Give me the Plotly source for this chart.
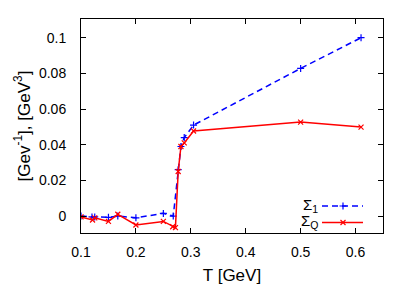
import plotly.graph_objects as go

T_sigma1 = [0.1, 0.12, 0.125, 0.15, 0.167, 0.2, 0.25, 0.268, 0.277, 0.282, 0.288, 0.305, 0.5, 0.61]
sigma1 = [0.0, -0.0005, -0.0005, -0.0007, 0.0, -0.001, 0.0015, 0.0, 0.026, 0.039, 0.044, 0.051, 0.0828, 0.1]

T_sigmaQ = [0.1, 0.121, 0.125, 0.15, 0.167, 0.2, 0.25, 0.267, 0.272, 0.277, 0.282, 0.288, 0.305, 0.5, 0.61]
sigmaQ = [-0.0005, -0.0022, -0.001, -0.003, 0.001, -0.005, -0.003, -0.006, -0.0065, 0.025, 0.039, 0.041, 0.0477, 0.0527, 0.0499]

x_ticks = [0.1, 0.2, 0.3, 0.4, 0.5, 0.6]
y_ticks = [0, 0.02, 0.04, 0.06, 0.08, 0.1]
y_ticklabels = ["0", "0.02", "0.04", "0.06", "0.08", "0.1"]

font = "Liberation Sans, Arial, sans-serif"
blue = "#0000ff"
red = "#ff0000"

fig = go.Figure()
fig.add_trace(go.Scatter(x=T_sigma1, y=sigma1, mode="lines+markers",
                         line=dict(color=blue, width=1.5, dash="6px,4px"),
                         marker=dict(symbol="cross-thin-open", size=5, color=blue, line=dict(width=1.2, color=blue)),
                         showlegend=False))
fig.add_trace(go.Scatter(x=T_sigmaQ, y=sigmaQ, mode="lines+markers",
                         line=dict(color=red, width=1.5),
                         marker=dict(symbol="x-thin-open", size=5, color=red, line=dict(width=1.2, color=red)),
                         showlegend=False))

# manual legend (text left of sample) on overlay axes
fig.add_trace(go.Scatter(x=[322, 363], y=[206, 206], xaxis="x2", yaxis="y2", mode="lines",
                         line=dict(color=blue, width=1.5, dash="6px,4px"), showlegend=False, hoverinfo="skip"))
fig.add_trace(go.Scatter(x=[343], y=[206], xaxis="x2", yaxis="y2", mode="markers",
                         marker=dict(symbol="cross-thin-open", size=5, color=blue, line=dict(width=1.2, color=blue)),
                         showlegend=False, hoverinfo="skip"))
fig.add_trace(go.Scatter(x=[322, 363], y=[222.5, 222.5], xaxis="x2", yaxis="y2", mode="lines",
                         line=dict(color=red, width=1.5), showlegend=False, hoverinfo="skip"))
fig.add_trace(go.Scatter(x=[343], y=[222.5], xaxis="x2", yaxis="y2", mode="markers",
                         marker=dict(symbol="x-thin-open", size=5, color=red, line=dict(width=1.2, color=red)),
                         showlegend=False, hoverinfo="skip"))

fig.update_layout(
    width=407, height=285,
    margin=dict(l=81, r=24, t=19, b=52),
    paper_bgcolor="white", plot_bgcolor="white",
    font=dict(family=font, size=14, color="black"),
    xaxis=dict(range=[0.1, 0.65], tickvals=x_ticks, ticktext=[str(v) for v in x_ticks],
               ticks="inside", ticklen=5, tickcolor="black", showline=True, linecolor="black",
               linewidth=1, mirror="ticks", showgrid=False, zeroline=False, automargin=False,
               title=dict(text="T [GeV]", standoff=12), ticklabelstandoff=6),
    yaxis=dict(range=[-0.0095, 0.1105], tickvals=y_ticks, ticktext=y_ticklabels,
               ticks="inside", ticklen=5, tickcolor="black", showline=True, linecolor="black",
               linewidth=1, mirror="ticks", showgrid=False, zeroline=False, automargin=False,
               title=dict(text="[Gev<sup>-1</sup>], [GeV<sup>3</sup>]", standoff=4), ticklabelstandoff=11),
    xaxis2=dict(range=[81, 383], overlaying="x", visible=False, fixedrange=True),
    yaxis2=dict(range=[233, 19], overlaying="y", visible=False, fixedrange=True),
    annotations=[
        dict(text="Σ<sub>1</sub>", xref="x2", yref="y2", x=320, y=205, xanchor="right", yanchor="middle",
             showarrow=False, font=dict(family=font, size=15)),
        dict(text="Σ<sub>Q</sub>", xref="x2", yref="y2", x=320, y=221, xanchor="right", yanchor="middle",
             showarrow=False, font=dict(family=font, size=15)),
    ],
)

fig.write_html("out.html", config={"displayModeBar": False},
               post_script="document.body.style.margin='0';")
